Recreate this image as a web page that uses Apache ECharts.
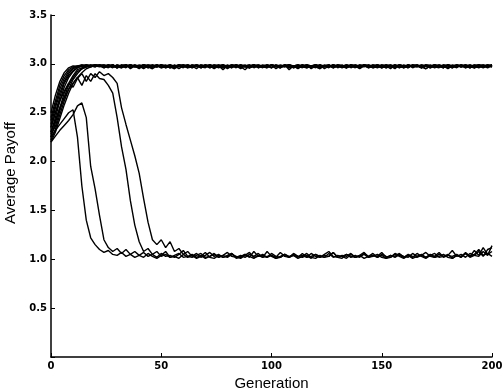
<!DOCTYPE html>
<html><head><meta charset="utf-8">
<script src="https://cdn.jsdelivr.net/npm/echarts@6/dist/echarts.min.js"></script>
<style>html,body{margin:0;padding:0;background:#fff}#c{width:503px;height:390px}</style>
</head><body><div id="c"></div>
<script>
const generations = [0,2,4,6,8,10,12,14,16,18,20,22,24,26,28,30,32,34,36,38,40,42,44,46,48,50,52,54,56,58,60,62,64,66,68,70,72,74,76,78,80,82,84,86,88,90,92,94,96,98,100,102,104,106,108,110,112,114,116,118,120,122,124,126,128,130,132,134,136,138,140,142,144,146,148,150,152,154,156,158,160,162,164,166,168,170,172,174,176,178,180,182,184,186,188,190,192,194,196,198,200];
const xTicks = [0,50,100,150,200];
const yTicks = [0.5,1.0,1.5,2.0,2.5,3.0,3.5];

const run1 = [2.45,2.62,2.78,2.88,2.94,2.97,2.98,2.99,2.98,2.99,2.98,2.99,
2.97,2.99,2.98,2.96,2.99,2.98,2.97,2.99,2.98,2.95,2.98,2.99,2.97,2.98,2.99,2.96,2.98,2.97,2.99,2.98,
2.97,2.99,2.96,2.98,2.99,2.97,2.98,2.94,2.98,2.99,2.97,2.98,2.99,2.96,2.98,2.97,2.99,2.98,2.96,2.99,
2.98,2.97,2.99,2.98,2.95,2.98,2.99,2.97,2.98,2.96,2.99,2.98,2.97,2.99,2.98,2.96,2.98,2.99,2.97,2.98,
2.99,2.96,2.98,2.97,2.99,2.98,2.95,2.99,2.98,2.97,2.98,2.99,2.96,2.98,2.97,2.99,2.98,2.96,2.99,2.98,
2.97,2.99,2.98,2.96,2.98,2.99,2.97,2.98,2.99];
const run2 = [2.38,2.55,2.70,2.82,2.90,2.95,2.97,2.98,2.99,2.98,2.99,2.98,
2.98,2.96,2.99,2.97,2.98,2.99,2.95,2.98,2.97,2.99,2.98,2.96,2.99,2.97,2.98,2.99,2.96,2.98,2.99,2.97,
2.98,2.95,2.99,2.98,2.97,2.99,2.98,2.96,2.97,2.99,2.98,2.97,2.94,2.98,2.99,2.97,2.98,2.96,2.99,2.98,
2.97,2.98,2.99,2.96,2.98,2.97,2.99,2.95,2.98,2.99,2.97,2.98,2.96,2.99,2.98,2.97,2.99,2.98,2.95,2.98,
2.97,2.99,2.98,2.96,2.99,2.97,2.98,2.99,2.96,2.98,2.97,2.99,2.98,2.95,2.98,2.99,2.97,2.98,2.96,2.99,
2.98,2.97,2.99,2.96,2.98,2.99,2.97,2.98,2.97];
const run3 = [2.30,2.45,2.62,2.76,2.86,2.92,2.96,2.98,2.97,2.99,2.98,2.99,
2.96,2.98,2.97,2.99,2.98,2.96,2.99,2.97,2.98,2.99,2.97,2.95,2.98,2.99,2.97,2.98,2.96,2.99,2.98,2.97,
2.99,2.98,2.97,2.96,2.99,2.98,2.97,2.99,2.95,2.98,2.97,2.99,2.98,2.96,2.98,2.99,2.97,2.98,2.96,2.99,
2.97,2.98,2.99,2.97,2.96,2.98,2.99,2.98,2.97,2.95,2.98,2.99,2.97,2.98,2.99,2.96,2.98,2.97,2.99,2.98,
2.96,2.98,2.99,2.97,2.98,2.95,2.99,2.98,2.97,2.99,2.96,2.98,2.97,2.99,2.98,2.97,2.96,2.99,2.98,2.97,
2.99,2.98,2.96,2.98,2.97,2.99,2.98,2.96,2.98];
const run4 = [2.25,2.40,2.55,2.70,2.80,2.88,2.94,2.96,2.98,2.97,2.99,2.98,
2.99,2.97,2.98,2.96,2.99,2.98,2.97,2.99,2.96,2.98,2.97,2.99,2.98,2.96,2.97,2.99,2.98,2.95,2.98,2.99,
2.97,2.98,2.96,2.99,2.98,2.97,2.99,2.98,2.96,2.98,2.99,2.97,2.98,2.96,2.99,2.97,2.98,2.99,2.96,2.98,
2.97,2.99,2.94,2.98,2.99,2.97,2.98,2.96,2.99,2.98,2.97,2.98,2.99,2.96,2.98,2.97,2.99,2.98,2.96,2.99,
2.98,2.97,2.99,2.98,2.96,2.98,2.97,2.99,2.98,2.96,2.99,2.98,2.97,2.95,2.98,2.99,2.97,2.98,2.99,2.96,
2.98,2.97,2.99,2.98,2.96,2.98,2.99,2.97,2.99];
const run5 = [2.22,2.33,2.48,2.62,2.74,2.84,2.90,2.95,2.97,2.98,2.97,2.99,
2.97,2.98,2.99,2.97,2.96,2.98,2.99,2.98,2.97,2.99,2.96,2.98,2.97,2.99,2.98,2.97,2.95,2.98,2.99,2.97,
2.98,2.99,2.96,2.98,2.97,2.99,2.98,2.96,2.99,2.97,2.98,2.99,2.97,2.96,2.98,2.99,2.98,2.97,2.99,2.95,
2.98,2.97,2.99,2.98,2.96,2.99,2.97,2.98,2.99,2.96,2.98,2.97,2.99,2.98,2.97,2.96,2.99,2.98,2.97,2.99,
2.98,2.96,2.97,2.99,2.98,2.97,2.99,2.96,2.98,2.99,2.97,2.98,2.96,2.99,2.98,2.97,2.99,2.98,2.95,2.98,
2.99,2.97,2.98,2.96,2.99,2.98,2.97,2.99,2.98];
const run6 = [2.50,2.68,2.82,2.91,2.96,2.98,2.97,2.99,2.98,2.97,2.99,2.98,
2.98,2.99,2.97,2.98,2.96,2.99,2.98,2.97,2.99,2.98,2.96,2.98,2.99,2.97,2.98,2.96,2.99,2.97,2.98,2.99,
2.96,2.98,2.97,2.99,2.98,2.95,2.98,2.99,2.97,2.98,2.99,2.96,2.98,2.97,2.99,2.98,2.97,2.96,2.99,2.98,
2.97,2.99,2.98,2.96,2.98,2.99,2.97,2.98,2.96,2.99,2.98,2.97,2.99,2.98,2.96,2.98,2.97,2.99,2.98,2.97,
2.99,2.98,2.96,2.98,2.99,2.97,2.98,2.96,2.99,2.97,2.98,2.99,2.96,2.98,2.97,2.99,2.98,2.96,2.99,2.98,
2.97,2.98,2.99,2.97,2.96,2.98,2.99,2.98,2.97];
const run7 = [2.28,2.36,2.52,2.66,2.78,2.86,2.92,2.95,2.97,2.98,2.99,2.98,
2.96,2.98,2.99,2.97,2.98,2.99,2.96,2.98,2.97,2.99,2.98,2.97,2.99,2.96,2.98,2.99,2.97,2.98,2.96,2.99,
2.98,2.97,2.99,2.98,2.96,2.98,2.97,2.99,2.98,2.96,2.99,2.97,2.98,2.99,2.96,2.98,2.97,2.99,2.98,2.97,
2.96,2.99,2.98,2.97,2.99,2.98,2.96,2.98,2.99,2.97,2.98,2.96,2.99,2.97,2.98,2.99,2.96,2.98,2.97,2.99,
2.98,2.97,2.99,2.96,2.98,2.99,2.97,2.98,2.96,2.99,2.98,2.97,2.99,2.98,2.96,2.98,2.97,2.99,2.98,2.96,
2.99,2.97,2.98,2.99,2.96,2.98,2.97,2.99,2.98];
const run8 = [2.35,2.50,2.66,2.80,2.88,2.93,2.96,2.98,2.99,2.98,2.97,2.99,
2.99,2.98,2.96,2.99,2.97,2.98,2.99,2.97,2.96,2.98,2.99,2.98,2.97,2.99,2.96,2.98,2.97,2.99,2.98,2.96,
2.99,2.98,2.97,2.99,2.96,2.98,2.99,2.97,2.98,2.96,2.99,2.98,2.97,2.98,2.99,2.96,2.98,2.97,2.99,2.98,
2.96,2.99,2.97,2.98,2.99,2.97,2.96,2.98,2.99,2.98,2.97,2.99,2.96,2.98,2.97,2.99,2.98,2.96,2.99,2.98,
2.97,2.99,2.98,2.96,2.98,2.99,2.97,2.98,2.96,2.99,2.98,2.97,2.99,2.98,2.96,2.98,2.99,2.97,2.98,2.96,
2.99,2.98,2.97,2.99,2.98,2.96,2.98,2.99,2.97];
const run9 = [2.20,2.30,2.44,2.58,2.70,2.80,2.86,2.91,2.95,2.97,2.98,2.97,
2.98,2.97,2.99,2.96,2.98,2.99,2.97,2.98,2.95,2.99,2.98,2.97,2.99,2.98,2.96,2.98,2.97,2.99,2.98,2.96,
2.97,2.99,2.98,2.97,2.99,2.96,2.98,2.99,2.97,2.98,2.96,2.99,2.97,2.98,2.99,2.96,2.98,2.97,2.99,2.98,
2.96,2.98,2.99,2.97,2.98,2.96,2.99,2.98,2.97,2.99,2.95,2.98,2.97,2.99,2.98,2.96,2.99,2.97,2.98,2.99,
2.96,2.98,2.97,2.99,2.98,2.97,2.96,2.99,2.98,2.97,2.99,2.98,2.96,2.98,2.99,2.97,2.98,2.96,2.99,2.97,
2.98,2.99,2.96,2.98,2.97,2.99,2.98,2.97,2.99];
const run10 = [2.42,2.58,2.74,2.85,2.92,2.96,2.98,2.97,2.99,2.98,2.99,2.98,
2.97,2.99,2.98,2.96,2.98,2.97,2.99,2.98,2.97,2.96,2.99,2.98,2.97,2.99,2.98,2.96,2.98,2.99,2.97,2.98,
2.96,2.99,2.98,2.97,2.99,2.98,2.96,2.98,2.97,2.99,2.98,2.95,2.98,2.99,2.97,2.98,2.96,2.99,2.98,2.97,
2.99,2.98,2.96,2.98,2.97,2.99,2.98,2.96,2.99,2.97,2.98,2.99,2.96,2.98,2.97,2.99,2.98,2.97,2.96,2.99,
2.98,2.97,2.99,2.98,2.96,2.98,2.99,2.97,2.98,2.96,2.99,2.98,2.97,2.99,2.98,2.96,2.98,2.97,2.99,2.98,
2.96,2.99,2.98,2.97,2.99,2.98,2.96,2.98,2.99];

const fall1 = [2.25,2.32,2.38,2.44,2.50,2.53,2.25,1.75,1.40,1.22,1.15,1.10,1.07,1.09,1.05,1.04,1.07,1.03,1.05,1.02,
1.04,1.02,1.06,1.03,1.01,1.04,1.08,1.02,1.03,1.01,1.05,1.02,1.04,1.01,1.03,1.07,1.02,1.01,1.04,1.02,
1.03,1.06,1.01,1.02,1.05,1.03,1.01,1.04,1.02,1.08,1.03,1.01,1.02,1.05,1.02,1.04,1.01,1.03,1.06,1.02,
1.01,1.04,1.02,1.03,1.07,1.02,1.01,1.05,1.03,1.02,1.04,1.01,1.03,1.06,1.02,1.04,1.01,1.02,1.05,1.03,
1.01,1.04,1.02,1.06,1.03,1.01,1.04,1.02,1.03,1.05,1.02,1.01,1.04,1.03,1.06,1.02,1.04,1.08,1.03,1.10,1.12];
const fall2 = [2.20,2.26,2.32,2.37,2.42,2.48,2.57,2.60,2.45,1.95,1.72,1.45,1.20,1.12,1.08,1.11,1.06,1.10,1.05,1.08,
1.04,1.07,1.03,1.05,1.02,1.06,1.03,1.04,1.02,1.05,1.09,1.03,1.02,1.04,1.06,1.02,1.03,1.05,1.02,1.04,
1.07,1.03,1.02,1.04,1.02,1.05,1.03,1.06,1.02,1.03,1.04,1.02,1.07,1.03,1.02,1.05,1.03,1.04,1.02,1.06,
1.03,1.02,1.05,1.08,1.03,1.02,1.04,1.03,1.06,1.02,1.03,1.05,1.02,1.04,1.03,1.07,1.02,1.04,1.02,1.05,
1.03,1.02,1.06,1.03,1.04,1.02,1.05,1.03,1.07,1.02,1.04,1.03,1.05,1.02,1.06,1.03,1.09,1.04,1.12,1.05,1.08];
const fall3 = [2.30,2.42,2.55,2.65,2.74,2.80,2.86,2.78,2.88,2.82,2.90,2.85,2.84,2.78,2.70,2.45,2.15,1.92,1.60,1.35,
1.18,1.08,1.11,1.05,1.08,1.03,1.05,1.02,1.04,1.06,1.02,1.03,1.05,1.02,1.04,1.01,1.03,1.06,1.02,1.04,
1.02,1.05,1.03,1.01,1.04,1.07,1.02,1.03,1.05,1.02,1.04,1.01,1.03,1.05,1.02,1.06,1.03,1.02,1.04,1.01,
1.05,1.03,1.02,1.06,1.02,1.04,1.03,1.01,1.05,1.02,1.04,1.07,1.02,1.03,1.05,1.02,1.01,1.04,1.03,1.06,
1.02,1.04,1.01,1.03,1.05,1.02,1.04,1.06,1.02,1.03,1.05,1.01,1.04,1.02,1.07,1.03,1.05,1.10,1.04,1.06,1.03];
const fall4 = [2.35,2.50,2.62,2.72,2.80,2.76,2.85,2.90,2.82,2.90,2.86,2.92,2.88,2.90,2.86,2.80,2.55,2.38,2.22,2.06,
1.88,1.62,1.38,1.20,1.15,1.20,1.12,1.18,1.08,1.11,1.05,1.08,1.03,1.06,1.02,1.04,1.07,1.03,1.05,1.02,
1.04,1.06,1.02,1.03,1.05,1.02,1.08,1.03,1.04,1.02,1.06,1.03,1.02,1.05,1.03,1.04,1.02,1.06,1.02,1.03,
1.05,1.02,1.04,1.03,1.07,1.02,1.03,1.05,1.02,1.04,1.02,1.06,1.03,1.04,1.02,1.05,1.03,1.02,1.06,1.04,
1.02,1.05,1.03,1.02,1.04,1.07,1.03,1.02,1.05,1.03,1.04,1.09,1.03,1.05,1.02,1.06,1.04,1.03,1.08,1.04,1.14];

const runs = [run1,run2,run3,run4,run5,run6,run7,run8,run9,run10,fall1,fall2,fall3,fall4];

const chart = echarts.init(document.getElementById('c'), null, {renderer:'canvas'});
const tickFont = {color:'#000', fontFamily:'DejaVu Sans', fontWeight:'bold', fontSize:10};
chart.setOption({
  animation:false,
  backgroundColor:'#fff',
  grid:{left:51, right:11, top:15, bottom:33, outerBoundsMode:'none', containLabel:false},
  xAxis:{
    type:'value', min:0, max:200, interval:50,
    name:'Generation', nameLocation:'middle', nameGap:13,
    nameTextStyle:{color:'#000', fontFamily:'Liberation Sans', fontSize:15},
    axisLine:{lineStyle:{color:'#000', width:1.5}},
    axisTick:{inside:true, length:4, lineStyle:{color:'#000'}},
    axisLabel:{...tickFont, margin:4, formatter:v => xTicks.includes(v) ? String(v) : ''},
    splitLine:{show:false}
  },
  yAxis:{
    type:'value', min:0, max:3.5, interval:0.5,
    name:'Average Payoff', nameLocation:'middle', nameGap:30, nameRotate:90,
    nameTextStyle:{color:'#000', fontFamily:'Liberation Sans', fontSize:15, padding:[0,0,0,26]},
    axisLine:{show:true, lineStyle:{color:'#000', width:1.5}},
    axisTick:{show:true, inside:true, length:4, lineStyle:{color:'#000'}},
    axisLabel:{...tickFont, margin:4, formatter:v => yTicks.some(t => Math.abs(t - v) < 1e-9) ? v.toFixed(1) : ''},
    splitLine:{show:false}
  },
  series: runs.map(r => ({
    type:'line', showSymbol:false, silent:true,
    data: generations.map((g,i) => [g, r[i]]),
    lineStyle:{color:'#000', width:1.4}
  }))
});
</script></body></html>
